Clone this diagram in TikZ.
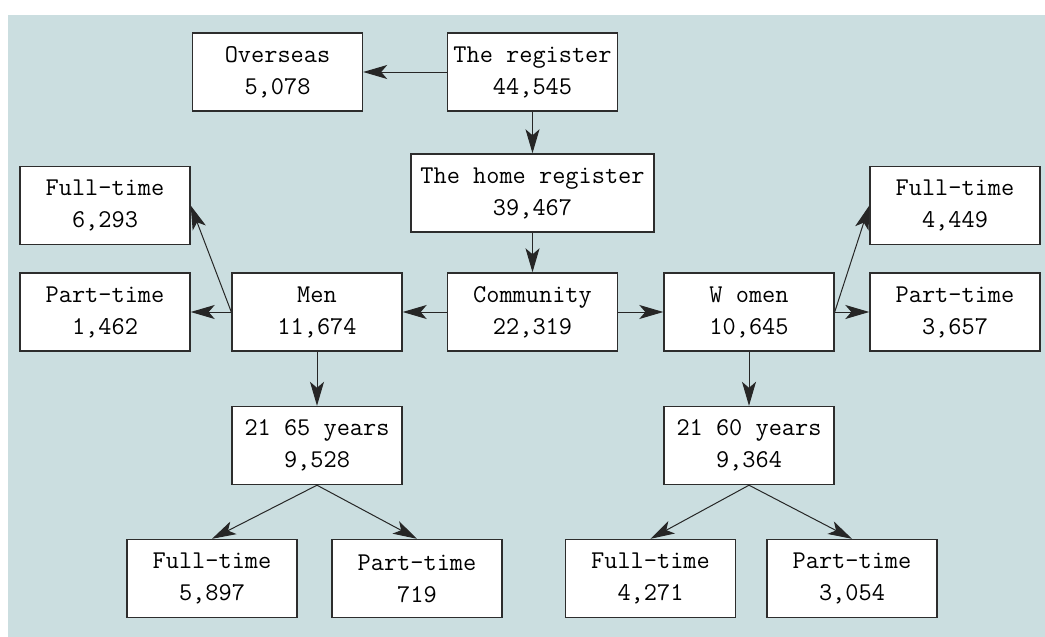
\documentclass[tikz,border=0pt]{standalone}
\usepackage{fontspec}
\usetikzlibrary{arrows.meta}

\definecolor{panel}{RGB}{203,222,224}
\definecolor{edge}{RGB}{45,45,45}

\begin{document}
\begin{tikzpicture}[x=0.5pt, y=-0.5pt,
  box/.style={draw=edge, line width=0.7pt, fill=white, minimum width=85pt,
    minimum height=39pt, inner sep=0pt, align=center,
    font=\ttfamily\fontsize{12.8}{16}\selectfont},
  link/.style={line width=0.5pt, draw=black!85,
    -{Stealth[length=12pt, width=7pt, inset=3pt]}}]

  \useasboundingbox (0,0) rectangle (1045,637);
  \fill[panel] (8,15) rectangle (1045,637);

  % top of the tree
  \node[box] (reg) at (532.5,72) {The register\\44,545};
  \node[box] (overseas) at (277.5,72) {Overseas\\5,078};
  \node[box, minimum width=121.5pt] (home) at (532.5,193) {The home register\\39,467};
  \node[box] (comm) at (532.5,312) {Community\\22,319};

  % men and women
  \node[box] (men) at (317,312) {Men\\11,674};
  \node[box] (women) at (749,312) {W omen\\10,645};
  \node[box] (menft) at (105,205.5) {Full-time\\6,293};
  \node[box] (menpt) at (105,312) {Part-time\\1,462};
  \node[box] (womft) at (955,205.5) {Full-time\\4,449};
  \node[box] (wompt) at (955,312) {Part-time\\3,657};

  % age groups
  \node[box] (menage) at (317,445.5) {21 65 years\\9,528};
  \node[box] (womage) at (749,445.5) {21 60 years\\9,364};
  \node[box] (menageft) at (212,578.5) {Full-time\\5,897};
  \node[box] (menagept) at (417,578.5) {Part-time\\719};
  \node[box] (womageft) at (650.5,578.5) {Full-time\\4,271};
  \node[box] (womagept) at (852,578.5) {Part-time\\3,054};

  \foreach \a/\b in {reg/overseas, reg/home, home/comm, comm/men, comm/women,
                     men/menage, women/womage} {
    \draw[link] (\a) -- (\b);
  }

  \draw[link] (men.west) -- (menpt.east);
  \draw[link] (men.west) -- (menft.east);
  \draw[link] (women.east) -- (wompt.west);
  \draw[link] (women.east) -- (womft.west);

  \foreach \a/\b in {menage/menageft, menage/menagept,
                     womage/womageft, womage/womagept} {
    \draw[link] (\a.south) -- (\b.north);
  }

\end{tikzpicture}
\end{document}
